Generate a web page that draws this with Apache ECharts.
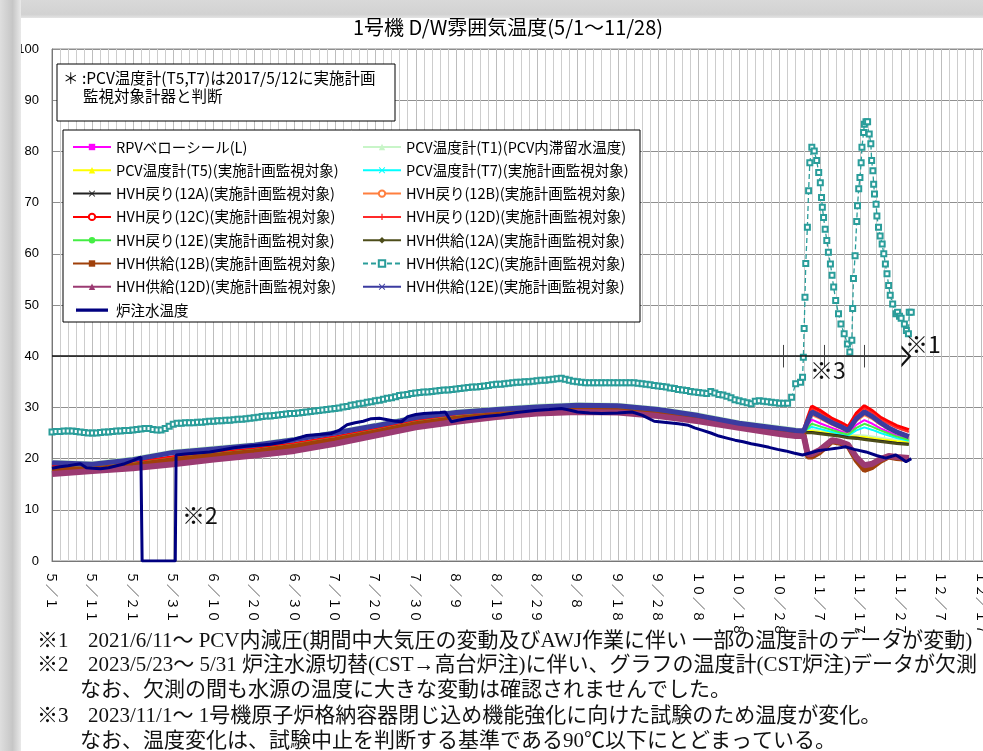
<!DOCTYPE html>
<html>
<head>
<meta charset="utf-8">
<script src="https://cdn.jsdelivr.net/npm/echarts@6/dist/echarts.min.js"></script>
<style>
  html, body { margin: 0; padding: 0; background: #fff; }
  #chart { width: 983px; height: 751px; }
</style>
</head>
<body>
<div id="chart"></div>
<script>
// ---------------- data ----------------
const chartTitle = '1号機 D/W雰囲気温度(5/1～11/28)';

// x axis: days counted from 5/1, one label every 10 days
const tickLabels = ['5/1','5/11','5/21','5/31','6/10','6/20','6/30','7/10','7/20','7/30',
  '8/9','8/19','8/29','9/8','9/18','9/28','10/8','10/18','10/28','11/7','11/17','11/27',
  '12/7','12/17','12/27'];

const seriesNames = [
  'RPVベローシール(L)',
  'PCV温度計(T1)(PCV内滞留水温度)',
  'PCV温度計(T5)(実施計画監視対象)',
  'PCV温度計(T7)(実施計画監視対象)',
  'HVH戻り(12A)(実施計画監視対象)',
  'HVH戻り(12B)(実施計画監視対象)',
  'HVH戻り(12C)(実施計画監視対象)',
  'HVH戻り(12D)(実施計画監視対象)',
  'HVH戻り(12E)(実施計画監視対象)',
  'HVH供給(12A)(実施計画監視対象)',
  'HVH供給(12B)(実施計画監視対象)',
  'HVH供給(12C)(実施計画監視対象)',
  'HVH供給(12D)(実施計画監視対象)',
  'HVH供給(12E)(実施計画監視対象)',
  '炉注水温度'
];

// sample days shared by the thermometer group
const bundleDays = [0,10,20,30,40,50,60,70,80,90,100,110,120,130,140,150,160,170,180,184,
  186,187,188,190,193,195,197,199,201,203,205,207,209,212];

const rpvBellows = [18.3,18.4,19.1,20.2,21.0,21.8,22.8,24.1,25.6,27.2,28.3,29.0,29.6,29.9,29.8,29.1,28.0,26.6,25.5,25.1,
  25.2,26.5,27.6,26.9,26.0,25.4,24.9,26.6,27.5,26.8,25.9,25.2,24.5,23.9];
const pcvT1 = [19.5,19.2,20.1,21.5,22.2,22.9,24.0,25.3,26.7,28.3,29.3,29.9,30.4,30.7,30.6,29.9,28.7,27.2,26.2,25.8,
  25.5,25.6,25.6,25.4,25.1,24.9,24.6,24.5,24.4,24.2,24.0,23.8,23.6,23.4];
const pcvT5 = [18.4,18.5,19.2,20.3,21.1,21.9,22.9,24.2,25.7,27.3,28.4,29.1,29.7,30.0,29.9,29.2,28.1,26.7,25.6,25.2,
  25.3,25.4,25.4,25.2,24.9,24.7,24.4,24.3,24.2,24.0,23.8,23.6,23.4,23.2];
const pcvT7 = [18.5,18.6,19.3,20.4,21.2,22.0,23.0,24.3,25.8,27.4,28.5,29.2,29.8,30.1,30.0,29.3,28.2,26.8,25.7,25.3,
  25.2,25.8,26.2,25.8,25.2,24.8,24.5,25.5,26.1,25.6,25.0,24.5,24.0,23.5];
const return12A = [18.1,18.2,18.9,20.0,20.8,21.6,22.6,23.9,25.4,27.0,28.1,28.8,29.4,29.7,29.6,28.9,27.8,26.4,25.3,24.9,
  25.1,25.2,25.2,25.0,24.7,24.5,24.2,24.1,23.9,23.7,23.5,23.3,23.1,22.9];
const return12B = [18.2,18.3,19.0,20.1,20.9,21.7,22.7,24.0,25.5,27.1,28.2,28.9,29.5,29.8,29.7,29.0,27.9,26.5,25.4,25.0,
  25.3,27.0,28.5,27.8,26.6,25.9,25.2,27.3,28.5,27.7,26.6,25.7,25.0,24.2];
const return12C = [18.4,18.4,19.2,20.3,21.1,21.9,22.9,24.2,25.7,27.3,28.4,29.1,29.7,30.0,29.9,29.2,28.1,26.7,25.6,25.2,
  25.6,28.0,30.2,29.4,27.8,27.1,26.2,28.8,30.3,29.3,28.0,27.2,26.4,25.6];
const return12D = [18.2,18.4,19.1,20.2,21.0,21.7,22.8,24.1,25.6,27.2,28.3,29.0,29.5,29.9,29.8,29.1,28.0,26.6,25.5,25.1,
  25.5,27.6,29.7,28.9,27.4,26.7,25.9,28.3,29.8,28.9,27.6,26.8,26.0,25.2];
const return12E = [18.2,18.3,19.0,20.0,20.9,21.7,22.7,24.0,25.5,27.1,28.2,28.8,29.5,29.8,29.7,29.0,27.9,26.5,25.4,25.0,
  25.1,26.0,26.8,26.3,25.6,25.1,24.7,26.0,26.8,26.2,25.5,24.9,24.3,23.7];
const supply12A = [18.0,18.1,18.8,19.9,20.7,21.5,22.5,23.8,25.3,26.9,28.0,28.7,29.3,29.6,29.5,28.8,27.7,26.3,25.2,24.8,
  25.0,25.0,25.0,24.8,24.5,24.3,24.0,23.9,23.7,23.5,23.3,23.1,22.9,22.7];
const supply12B = [17.9,18.0,18.7,19.8,20.6,21.4,22.4,23.7,25.2,26.8,27.9,28.6,29.2,29.5,29.4,28.7,27.6,26.2,25.1,24.7,
  24.9,20.3,20.3,21.2,23.3,23.0,22.3,19.6,17.7,18.3,19.5,20.3,20.0,19.8];
const supply12D = [17.0,17.6,18.1,18.9,19.8,20.6,21.5,22.9,24.5,26.1,27.2,28.1,28.8,29.1,29.0,28.3,27.3,26.0,24.8,24.4,
  24.4,20.8,20.9,21.7,23.6,23.3,22.7,20.3,18.7,19.0,19.9,20.5,20.3,20.1];
const supply12E = [19.2,18.9,19.8,21.2,21.9,22.6,23.7,25.0,26.4,28.0,29.0,29.6,30.1,30.4,30.3,29.6,28.4,26.9,25.9,25.5,
  25.4,27.3,29.1,28.3,27.0,26.3,25.5,27.8,29.1,28.2,27.0,26.0,25.2,24.3];

// HVH supply 12C: one reading per day from 5/1 (index = day) ...
const supply12CDaily = [
  25.2,25.3,25.3,25.4,25.4,25.4,25.3,25.2,25.1,25.0,
  25.0,25.0,25.1,25.2,25.2,25.3,25.4,25.4,25.5,25.5,
  25.6,25.7,25.8,25.9,25.9,25.7,25.6,25.6,25.9,26.3,
  26.7,26.9,26.9,27.0,27.0,27.0,27.1,27.1,27.2,27.3,
  27.3,27.4,27.4,27.5,27.5,27.6,27.7,27.7,27.8,27.9,
  28.0,28.1,28.2,28.3,28.3,28.4,28.5,28.6,28.7,28.8,
  28.8,28.9,29.0,29.1,29.2,29.3,29.4,29.5,29.6,29.7,
  29.8,29.9,30.1,30.2,30.4,30.5,30.7,30.8,31.0,31.1,
  31.3,31.4,31.6,31.8,31.9,32.1,32.3,32.4,32.5,32.7,
  32.8,32.9,33.0,33.0,33.1,33.2,33.3,33.4,33.4,33.5,
  33.6,33.7,33.8,33.9,34.0,34.0,34.1,34.2,34.3,34.4,
  34.5,34.5,34.6,34.7,34.8,34.9,34.9,35.0,35.0,35.1,
  35.2,35.3,35.3,35.4,35.5,35.6,35.7,35.5,35.3,35.1,
  35.0,34.9,34.8,34.8,34.8,34.8,34.8,34.8,34.8,34.8,
  34.8,34.8,34.8,34.8,34.8,34.7,34.6,34.5,34.4,34.3,
  34.2,34.1,34.0,33.8,33.7,33.5,33.4,33.3,33.1,33.0,
  32.9,32.8,32.7,33.1,32.8,32.5,32.4,32.2,31.9,31.5,
  31.3,31.1,30.9,30.7,31.2,31.3,31.2,31.1,31.0,30.9,
  30.8,30.8,30.8,32.0,34.6
];
// ... then the finer readings through the November test
const supply12CTestDays = [185.2,185.7,185.9,186.1,186.3,186.5,186.9,187.2,187.5,188.0,
  188.6,189.2,189.7,190.1,190.4,190.6,190.9,191.3,191.7,192.1,
  192.6,193.0,193.4,193.9,194.6,195.2,196.0,196.8,197.4,197.9,
  198.1,198.3,198.7,199.1,199.3,199.6,199.9,200.2,200.4,200.8,
  201.0,201.4,201.8,202.2,202.6,202.8,203.1,203.3,203.5,203.9,
  204.1,204.5,204.9,205.4,205.8,206.2,206.6,207.0,207.4,208.0,
  208.8,209.2,209.7,210.1,210.9,211.4,211.9,212.1,212.6];
const supply12CTestVals = [34.9,35.9,39.8,45.4,51.5,58.1,65.2,72.3,77.8,80.8,
  80.1,78.2,75.9,73.9,71.0,69.1,67.1,64.8,62.6,60.3,
  58.0,55.8,53.5,50.9,48.3,46.3,44.4,42.4,40.8,43.1,
  49.3,55.2,59.6,66.3,69.4,72.7,74.9,77.8,80.8,83.7,
  85.3,85.8,85.8,83.4,81.5,78.2,76.2,73.6,71.7,69.7,
  67.4,65.2,63.5,61.9,60.0,58.0,56.1,53.8,51.9,50.2,
  48.3,48.6,47.8,47.4,46.3,45.0,44.4,48.6,48.6];

// reactor injection water temperature (0 while the 5/23～5/31 data were missing)
const injectionDays = [0,2,4,5.5,7,8.5,10,12,14,16,18,20,22,22.3,30.5,30.7,33,36,39,42,45,48,51,54,57,
  60,63,66,69,71,73,75,77,79,81,83,85,86.5,88,90,92,94,96,97.3,98.8,100.5,102.5,104.6,107,111,115,
  119.5,123,126,128,130,133,136,140,143.5,146,149,152.6,155,157.5,159,161,163,165,167,169,171,173,
  175,177.4,179.5,181.5,183.5,185.7,188,189.8,192,194,196.4,198.5,201.4,204,206.3,208.8,210,211.3,212.6];
const injectionVals = [18.1,18.4,18.6,18.8,19.0,18.2,18.1,18.0,18.2,18.6,19.0,19.6,20.3,0,0,20.7,20.9,21.1,21.3,21.7,22.1,22.4,22.6,22.8,23.2,
  23.8,24.5,24.7,24.9,25.5,26.6,27.0,27.3,27.8,27.9,27.6,27.3,27.2,28.2,28.6,28.8,28.9,29.0,29.1,27.2,27.5,27.8,28.0,28.2,28.5,29.0,
  29.4,29.6,29.8,29.5,29.1,28.9,28.8,28.9,29.1,28.5,27.3,27.0,26.8,26.5,26.0,25.5,25.0,24.4,24.0,23.6,23.3,22.9,
  22.6,22.2,21.8,21.5,21.1,20.7,21.2,21.6,21.8,22.0,22.3,21.8,21.3,20.6,20.1,20.7,20.1,19.4,20.0];

// annotation line (※1 period) and its end
const arrowLevel = 40;
const arrowEndDay = 211.4;
const arrowTickDays = [181, 191, 201];

// ---------------- drawing ----------------
const FONT = '"Noto Sans CJK JP", "Noto Sans", sans-serif';
const NOTE_FONT = '"Liberation Serif", "Noto Sans CJK JP", serif';

const X_MARK = 'path://M1,0 L5,4 L9,0 L10,1 L6,5 L10,9 L9,10 L5,6 L1,10 L0,9 L4,5 L0,1 Z';
const PLUS_MARK = 'path://M4,0 H6 V4 H10 V6 H6 V10 H4 V6 H0 V4 H4 Z';
const CHEVRON = 'path://M0,10 L5,0 L10,10 L8.5,10 L5,3 L1.5,10 Z';
const BAR_ICON = 'path://M0,0 H0.05 V10 H0 Z M0,3 H40 V7 H0 Z';

const toWide = s => s.replace(/[0-9\/]/g, c => String.fromCharCode(c.charCodeAt(0) + 0xFEE0));
const pairs = (xs, ys) => xs.map((x, i) => [x, ys[i]]);

const bundleValues = [rpvBellows, pcvT1, pcvT5, pcvT7, return12A, return12B, return12C,
  return12D, return12E, supply12A, supply12B, null, supply12D, supply12E];

// color, symbol, line width
const looks = [
  { color: '#ff00ff', symbol: 'rect', width: 2 },
  { color: '#c8f5c8', symbol: 'triangle', width: 3 },
  { color: '#ffff00', symbol: 'triangle', width: 2 },
  { color: '#00ffff', symbol: X_MARK, width: 2 },
  { color: '#222222', symbol: X_MARK, width: 2 },
  { color: '#ff7f3f', symbol: 'emptyCircle', width: 2 },
  { color: '#ff0000', symbol: 'emptyCircle', width: 3.5 },
  { color: '#ff2a2a', symbol: PLUS_MARK, width: 2 },
  { color: '#44ee44', symbol: 'circle', width: 2 },
  { color: '#4d4d1a', symbol: 'diamond', width: 2.5 },
  { color: '#a0400a', symbol: 'rect', width: 5 },
  { color: '#2a9d9a', symbol: 'emptyRect', width: 1.3 },
  { color: '#9b3a72', symbol: 'triangle', width: 6 },
  { color: '#3b3ba0', symbol: X_MARK, width: 5 },
  { color: '#000080', symbol: 'none', width: 3 }
];

const series = seriesNames.map((name, i) => {
  const lk = looks[i];
  const s = {
    name, type: 'line', symbol: lk.symbol, symbolSize: 6, showSymbol: false,
    lineStyle: { color: lk.color, width: lk.width }, itemStyle: { color: lk.color },
    silent: true, z: 2 + i * 0.01
  };
  if (i === 11) {
    const daily = supply12CDaily.map((v, d) => [d, v]);
    s.data = daily.concat(pairs(supply12CTestDays, supply12CTestVals));
    s.showSymbol = true;
    s.symbolSize = 5;
    s.lineStyle = { color: lk.color, width: 1.3, type: [5, 3] };
    s.itemStyle = { color: lk.color, borderWidth: 1 };
  } else if (i === 14) {
    s.data = pairs(injectionDays, injectionVals);
    s.markLine = {
      silent: true, animation: false,
      label: { show: false },
      symbol: ['none', 'none'],
      lineStyle: { color: '#111', width: 1.6, type: 'solid' },
      data: [
        [{ coord: [0, arrowLevel] },
         { coord: [arrowEndDay, arrowLevel], symbol: CHEVRON, symbolSize: [22, 10] }]
      ].concat(arrowTickDays.map(d => [
        { coord: [d, arrowLevel - 2.2], lineStyle: { color: '#444', width: 1 } },
        { coord: [d, arrowLevel + 2.2] }
      ]))
    };
  } else {
    s.data = pairs(bundleDays, bundleValues[i]);
  }
  return s;
});

const legendItem = i => (i === 14 ? { name: seriesNames[i], icon: BAR_ICON } : { name: seriesNames[i] });
const legendCommon = {
  orient: 'vertical', top: 139, padding: 0, itemWidth: 38, itemHeight: 8, itemGap: 7.3,
  selectedMode: false, z: 20,
  textStyle: { fontFamily: FONT, fontSize: 14.5, color: '#000', lineHeight: 16 }
};

const noteLines = [
  { mark: '※1', text: '2021/6/11～ PCV内減圧(期間中大気圧の変動及びAWJ作業に伴い 一部の温度計のデータが変動)', y: 641 },
  { mark: '※2', text: '2023/5/23～ 5/31 炉注水源切替(CST→高台炉注)に伴い、グラフの温度計(CST炉注)データが欠測', y: 665 },
  { mark: '', text: 'なお、欠測の間も水源の温度に大きな変動は確認されませんでした。', y: 690, indent: true },
  { mark: '※3', text: '2023/11/1～ 1号機原子炉格納容器閉じ込め機能強化に向けた試験のため温度が変化。', y: 716 },
  { mark: '', text: 'なお、温度変化は、試験中止を判断する基準である90℃以下にとどまっている。', y: 741, indent: true }
];

const graphic = [
  // frame of the page around the chart
  { type: 'rect', z: 100, shape: { x: 0, y: 0, width: 983, height: 18 },
    style: { fill: new echarts.graphic.LinearGradient(0, 0, 0, 1, [
      { offset: 0, color: '#d9d9d9' }, { offset: 0.8, color: '#d2d2d2' }, { offset: 1, color: '#e4e4e4' }]) } },
  { type: 'rect', z: 101, shape: { x: 0, y: 0, width: 21, height: 751 },
    style: { fill: new echarts.graphic.LinearGradient(0, 0, 1, 0, [
      { offset: 0, color: '#dedede' }, { offset: 0.6, color: '#c6c6c6' }, { offset: 1, color: '#e9e9e9' }]) } },
  // title
  { type: 'text', z: 30, x: 508, y: 27,
    style: { text: chartTitle, font: '20px ' + FONT, fill: '#000', align: 'center', verticalAlign: 'middle' } },
  // note box
  { type: 'rect', z: 10, shape: { x: 57, y: 64, width: 338, height: 57 },
    style: { fill: '#fff', stroke: '#000', lineWidth: 1 } },
  { type: 'text', z: 11, x: 63, y: 78,
    style: { text: '＊ :PCV温度計(T5,T7)は2017/5/12に実施計画', font: '15.5px ' + FONT, fill: '#000', verticalAlign: 'middle' } },
  { type: 'text', z: 11, x: 83, y: 96,
    style: { text: '監視対象計器と判断', font: '15.5px ' + FONT, fill: '#000', verticalAlign: 'middle' } },
  // legend frame
  { type: 'rect', z: 10, shape: { x: 63, y: 130, width: 577, height: 192 },
    style: { fill: '#fff', stroke: '#000', lineWidth: 1 } },
  // reference marks inside the plot
  { type: 'text', z: 30, x: 905, y: 344,
    style: { text: '※1', font: '23px ' + FONT, fill: '#111', verticalAlign: 'middle' } },
  { type: 'text', z: 30, x: 810, y: 370,
    style: { text: '※3', font: '23px ' + FONT, fill: '#111', verticalAlign: 'middle' } },
  { type: 'text', z: 30, x: 182, y: 515,
    style: { text: '※2', font: '23px ' + FONT, fill: '#111', verticalAlign: 'middle' } }
];
noteLines.forEach(n => {
  if (n.mark) {
    graphic.push({ type: 'text', z: 30, x: 37, y: n.y,
      style: { text: n.mark, font: '21px ' + NOTE_FONT, fill: '#111', verticalAlign: 'middle' } });
  }
  graphic.push({ type: 'text', z: 30, x: n.indent ? 80 : 88, y: n.y,
    style: { text: n.text, font: '21px ' + NOTE_FONT, fill: '#111', verticalAlign: 'middle' } });
});

const chart = echarts.init(document.getElementById('chart'), null, { renderer: 'canvas' });
chart.setOption({
  animation: false,
  backgroundColor: '#ffffff',
  textStyle: { fontFamily: FONT },
  grid: { left: 52, top: 49, width: 970, height: 512, containLabel: false, outerBoundsMode: 'none',
          show: true, borderColor: '#8a8a8a', borderWidth: 1 },
  xAxis: {
    type: 'value', min: 0, max: 240, interval: 10,
    axisLine: { show: true, lineStyle: { color: '#777' } },
    axisTick: { show: false },
    axisLabel: {
      rotate: -90, margin: 10, fontSize: 13, color: '#000', fontFamily: FONT,
      formatter: v => toWide(tickLabels[Math.round(v / 10)] || '')
    },
    splitLine: { show: true, lineStyle: { color: '#bdbdbd', width: 1 } },
    minorTick: { show: false, splitNumber: 5 },
    minorSplitLine: { show: true, lineStyle: { color: '#cdcdcd', width: 1 } }
  },
  yAxis: {
    type: 'value', min: 0, max: 100, interval: 10,
    axisLine: { show: true, lineStyle: { color: '#777' } },
    axisTick: { show: false },
    axisLabel: { fontSize: 13, color: '#000', margin: 13, fontFamily: '"Liberation Sans", sans-serif' },
    splitLine: { show: true, lineStyle: { color: '#8f8f8f', width: 1 } }
  },
  legend: [
    Object.assign({ left: 72, data: [0, 2, 4, 6, 8, 10, 12, 14].map(legendItem) }, legendCommon),
    Object.assign({ left: 362, data: [1, 3, 5, 7, 9, 11, 13].map(legendItem) }, legendCommon)
  ],
  series,
  graphic
});
</script>
</body>
</html>
